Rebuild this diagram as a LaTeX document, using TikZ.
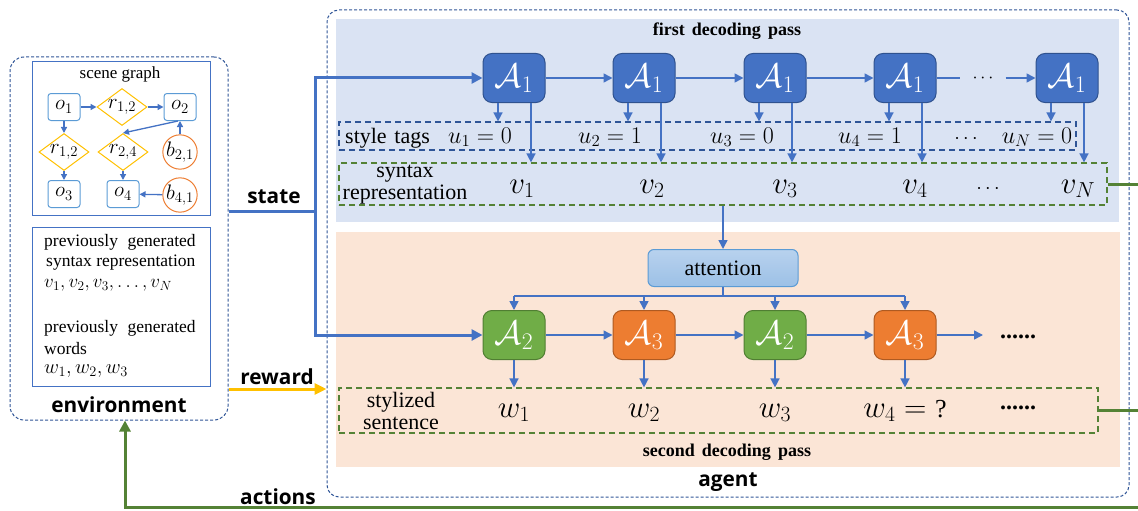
\RequirePackage{fix-cm}
\documentclass[tikz,border=0pt]{standalone}
\usepackage{fontspec}
\setmainfont{Liberation Serif}
\newfontfamily\labelsans{Open Sans}
\usetikzlibrary{arrows.meta,shapes.geometric,calc}

\newcommand{\sizeto}[1]{\fontsize{#1}{#1}\selectfont}

\definecolor{frameblue}{HTML}{2F5597}
\definecolor{arrowblue}{HTML}{4472C4}
\definecolor{passblue}{HTML}{DAE3F3}
\definecolor{passpeach}{HTML}{FBE5D6}
\definecolor{cellblue}{HTML}{4472C4}
\definecolor{cellblueline}{HTML}{2F528F}
\definecolor{cellgreen}{HTML}{70AD47}
\definecolor{cellgreenline}{HTML}{507E32}
\definecolor{cellorange}{HTML}{ED7D31}
\definecolor{cellorangeline}{HTML}{AE5A21}
\definecolor{seqgreen}{HTML}{548235}
\definecolor{gold}{HTML}{FFC000}
\definecolor{objline}{HTML}{5B9BD5}
\definecolor{attntop}{HTML}{B8D2EE}
\definecolor{attnbot}{HTML}{9CC0E6}

\tikzset{
  region/.style={inner sep=0pt, draw=none},
  frame/.style={draw=frameblue, line width=1pt, dash pattern=on 3pt off 2pt,
    rounded corners=14pt, inner sep=0pt},
  seqbox/.style={draw=seqgreen, line width=1.2pt, dash pattern=on 6pt off 4pt, inner sep=0pt},
  tagbox/.style={draw=frameblue, line width=1.2pt, dash pattern=on 6pt off 4pt, inner sep=0pt},
  cell/.style={minimum width=62pt, minimum height=49pt, rounded corners=9pt,
    inner sep=0pt, line width=1pt, text=white, font=\sizeto{34}},
  enc/.style={cell, fill=cellblue, draw=cellblueline},
  dgreen/.style={cell, fill=cellgreen, draw=cellgreenline},
  dorange/.style={cell, fill=cellorange, draw=cellorangeline},
  flow/.style={draw=arrowblue, line width=1.5pt, -{Triangle[length=9pt,width=9pt]}},
  link/.style={draw=arrowblue, line width=1.5pt},
  smallflow/.style={draw=arrowblue, line width=1.3pt, -{Triangle[length=6pt,width=6pt]}},
  statepath/.style={draw=arrowblue, line width=3pt},
  statearrow/.style={statepath, -{Triangle[length=11pt,width=11pt]}},
  greenpath/.style={draw=seqgreen, line width=3pt},
  greenarrow/.style={greenpath, -{Triangle[length=11pt,width=11pt]}},
  rewardarrow/.style={draw=gold, line width=3pt, -{Triangle[length=12pt,width=11pt]}},
  headlabel/.style={inner sep=0pt, font=\labelsans\sizeto{20.8}\bfseries},
  passtitle/.style={inner sep=0pt, font=\bfseries\sizeto{18}},
  rowtext/.style={inner sep=0pt, anchor=base, font=\sizeto{22}},
  tagmath/.style={inner sep=0pt, anchor=base, font=\sizeto{24}},
  seqmath/.style={inner sep=0pt, anchor=base, font=\sizeto{31}},
  histtext/.style={inner sep=0pt, anchor=west, font=\sizeto{17.5}},
  obj/.style={draw=objline, line width=1pt, rounded corners=3pt, minimum width=32pt,
    minimum height=27pt, inner sep=0pt, font=\sizeto{21}},
  rel/.style={diamond, aspect=1.35, draw=gold, line width=1pt, minimum width=50pt,
    minimum height=37pt, inner sep=-3pt, font=\sizeto{21}},
  attr/.style={circle, draw=cellorange, line width=1pt, minimum size=34pt,
    inner sep=0pt, font=\sizeto{21}},
  dotrow/.style={inner sep=0pt, font=\bfseries\sizeto{24}},
}

\begin{document}
\begin{tikzpicture}[x=1pt,y=-1pt]
\useasboundingbox (0,0) rectangle (1138,511);

% shaded areas of the two decoding passes
\node[region, fill=passblue, minimum width=783pt, minimum height=203pt] (pass1) at (727.5,120.5) {};
\node[region, fill=passpeach, minimum width=784pt, minimum height=235pt] (pass2) at (728,349.5) {};

% dashed frames of environment and agent
\node[frame, minimum width=218pt, minimum height=363pt] (env) at (119,238.5) {};
\node[frame, rounded corners=12pt, minimum width=802pt, minimum height=487pt] (agent) at (728,253.5) {};

\node[passtitle] (title1) at (727,31) {first\hspace{0.4em}decoding\hspace{0.4em}pass};
\node[passtitle] (title2) at (727,452) {second\hspace{0.4em}decoding\hspace{0.4em}pass};
\node[headlabel] (agentname) at (728,482) {agent};
\node[headlabel] (envname) at (119,405) {environment};

% ---------- environment: scene graph ----------
\node[draw=arrowblue, line width=1pt, minimum width=178pt, minimum height=153pt, inner sep=0pt] (sg) at (121,138.5) {};
\node[inner sep=0pt, font=\sizeto{17}] (sgtitle) at (120,74) {scene graph};

\node[obj] (o1) at (64,107) {$o_1$};
\node[rel] (r12a) at (122,107) {$r_{1,2}$};
\node[obj] (o2) at (180,107) {$o_2$};
\node[rel] (r12b) at (64,152) {$r_{1,2}$};
\node[rel] (r24) at (123,152) {$r_{2,4}$};
\node[attr] (b21) at (180,152) {$b_{2,1}$};
\node[obj] (o3) at (64,194) {$o_3$};
\node[obj] (o4) at (123,194) {$o_4$};
\node[attr] (b41) at (180,195) {$b_{4,1}$};

\draw[smallflow] (o1) -- (r12a);
\draw[smallflow] (r12a) -- (o2);
\draw[smallflow] (o1) -- (r12b);
\draw[smallflow] (r12b) -- (o3);
\draw[smallflow] ([xshift=-2pt]o2.south) -- (r24.north);
\draw[smallflow] (r24) -- (o4);
\draw[smallflow] (b21) -- (o2);
\draw[smallflow] (b41) -- (o4);

% ---------- environment: generation history ----------
\node[draw=arrowblue, line width=1pt, minimum width=178pt, minimum height=159pt, inner sep=0pt] (hist) at (121,306.5) {};
\node[histtext] (h1) at (44,242) {previously\hspace{0.55em}generated};
\node[histtext] (h2) at (46,263) {syntax representation};
\node[histtext, font=\sizeto{19}] (h3) at (44,285) {$v_1,v_2,v_3,\ldots,v_N$};
\node[histtext] (h4) at (44,328) {previously\hspace{0.55em}generated};
\node[histtext] (h5) at (44,349) {words};
\node[histtext, font=\sizeto{20.5}] (h6) at (44,371) {$w_1,w_2,w_3$};

% ---------- first decoding pass ----------
\node[enc] (a1) at (514,78) {$\mathcal{A}_1$};
\node[enc] (a2) at (644,78) {$\mathcal{A}_1$};
\node[enc] (a3) at (775,78) {$\mathcal{A}_1$};
\node[enc] (a4) at (905,78) {$\mathcal{A}_1$};
\node[enc] (a5) at (1067,78) {$\mathcal{A}_1$};
\node[inner sep=0pt, font=\sizeto{18}] (adots) at (983,78) {$\cdots$};

\draw[flow] (a1) -- (a2);
\draw[flow] (a2) -- (a3);
\draw[flow] (a3) -- (a4);
\draw[link] (a4.east) -- ([xshift=-12pt]adots.west);
\draw[flow] ([xshift=12pt]adots.east) -- (a5.west);

\node[tagbox, minimum width=737pt, minimum height=28pt] (tags) at (707.5,136) {};
\node[seqbox, minimum width=768pt, minimum height=42pt] (syn) at (723,184) {};

\foreach \n in {a1,a2,a3,a4,a5}{
  \draw[flow] ([xshift=-16pt]\n.south) -- ([xshift=-16pt]\n.south |- tags.north);
  \draw[flow] ([xshift=17pt]\n.south) -- ([xshift=17pt]\n.south |- syn.north);
}

\node[rowtext, anchor=base west] (tagname) at (345,143) {style\hspace{0.35em}tags};
\node[tagmath] (u1) at (480,143) {$u_1 = 0$};
\node[tagmath] (u2) at (610,143) {$u_2 = 1$};
\node[tagmath] (u3) at (742,143) {$u_3 = 0$};
\node[tagmath] (u4) at (870,143) {$u_4 = 1$};
\node[tagmath, font=\sizeto{20}] (udots) at (966,143) {$\cdots$};
\node[tagmath] (uN) at (1037,143) {$u_N = 0$};

\node[rowtext] (synname1) at (405,177) {syntax};
\node[rowtext] (synname2) at (405,199) {representation};
\node[seqmath] (v1) at (522,193) {$v_1$};
\node[seqmath] (v2) at (652,193) {$v_2$};
\node[seqmath] (v3) at (785,193) {$v_3$};
\node[seqmath] (v4) at (915,193) {$v_4$};
\node[tagmath, font=\sizeto{20}] (vdots) at (988,193) {$\cdots$};
\node[seqmath] (vN) at (1078,193) {$v_N$};

% ---------- second decoding pass ----------
\node[draw=objline, line width=1pt, rounded corners=6pt, top color=attntop, bottom color=attnbot,
  minimum width=150pt, minimum height=37pt, font=\sizeto{22}] (attn) at (723,268) {attention};
\draw[flow] (attn.north |- syn.south) -- (attn.north);

\node[dgreen] (d1) at (514,335) {$\mathcal{A}_2$};
\node[dorange] (d2) at (644,335) {$\mathcal{A}_3$};
\node[dgreen] (d3) at (775,335) {$\mathcal{A}_2$};
\node[dorange] (d4) at (905,335) {$\mathcal{A}_3$};
\node[dotrow] (ddots) at (1018,337) {......};
\coordinate (ddotsin) at (983,335);

\draw[flow] (d1) -- (d2);
\draw[flow] (d2) -- (d3);
\draw[flow] (d3) -- (d4);
\draw[flow] (d4.east) -- (ddotsin);

\coordinate (fan) at (723,296);
\draw[link] (attn.south) -- (fan);
\draw[link] (d1.north |- fan) -- (d4.north |- fan);
\foreach \n in {d1,d2,d3,d4}{
  \draw[flow] (\n.north |- fan) -- (\n.north);
}

\node[seqbox, minimum width=759pt, minimum height=45pt] (words) at (718.5,410.5) {};
\foreach \n in {d1,d2,d3,d4}{
  \draw[flow] (\n.south) -- (\n.south |- words.north);
}

\node[rowtext] (wname1) at (401,407) {stylized};
\node[rowtext] (wname2) at (401,429) {sentence};
\node[seqmath] (w1) at (514,417) {$w_1$};
\node[seqmath] (w2) at (644,417) {$w_2$};
\node[seqmath] (w3) at (775,417) {$w_3$};
\node[seqmath] (w4) at (905,417) {$w_4 = {}$\fontsize{26}{26}\selectfont ?};
\node[dotrow] (wdots) at (1018,408) {......};

% ---------- interaction between environment and agent ----------
\coordinate (statefork) at (315,211);
\draw[statepath] (env.east |- statefork) -- (statefork);
\draw[statearrow] (statefork) |- (a1.west);
\draw[statearrow] (statefork) |- (d1.west);
\node[headlabel] (statename) at (274,197) {state};

\coordinate (rewardlevel) at (0,389);
\draw[rewardarrow] (env.east |- rewardlevel) -- (agent.west |- rewardlevel);
\node[headlabel] (rewardname) at (277,377) {reward};

\coordinate (edgeA) at (1138,184);
\coordinate (edgeB) at (1138,410.5);
\coordinate (edgeC) at (1138,507);
\draw[greenpath] (syn.east) -- (edgeA);
\draw[greenpath] (words.east) -- (edgeB);
\draw[greenarrow] (edgeC) -- ([xshift=6pt]env.south |- edgeC) -- ([xshift=6pt]env.south);
\node[headlabel] (actionname) at (278,497) {actions};

\end{tikzpicture}
\end{document}
